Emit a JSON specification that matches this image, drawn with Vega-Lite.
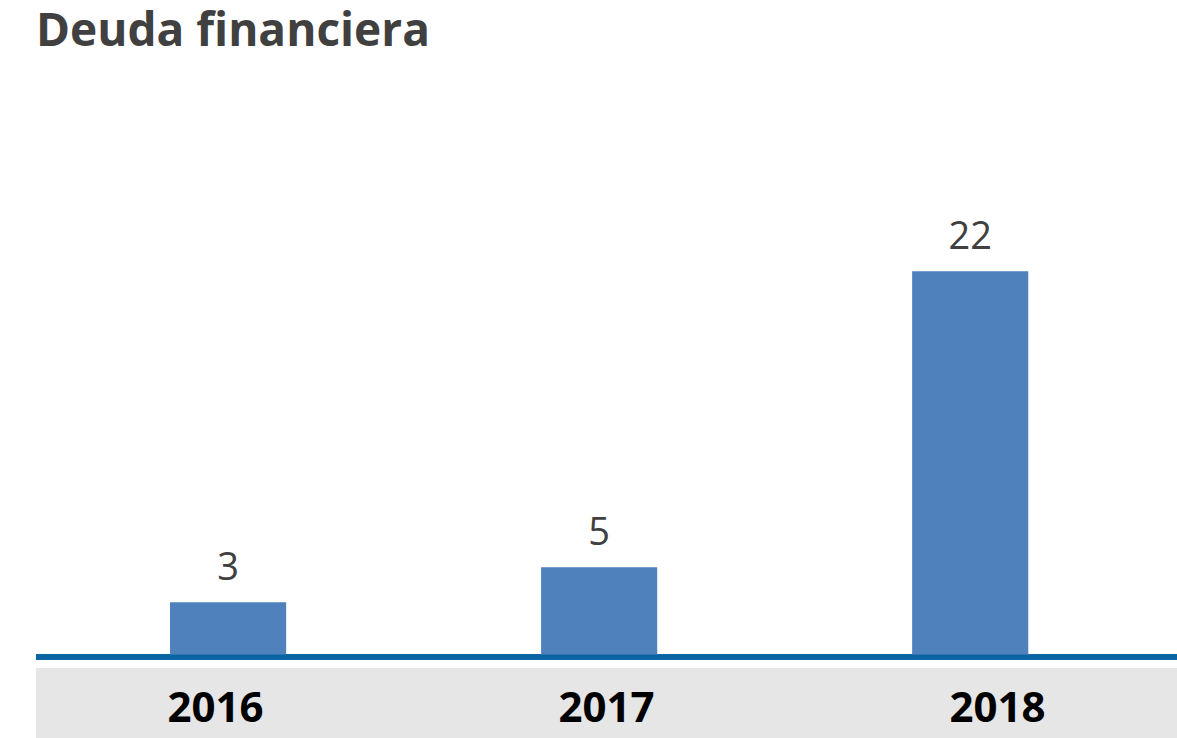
{
  "$schema": "https://vega.github.io/schema/vega-lite/v6.json",
  "width": 1141,
  "height": 641,
  "autosize": {"type": "none"},
  "padding": {"left": 36, "top": 97, "right": 0, "bottom": 0},
  "background": "white",
  "config": {"view": {"stroke": null}},
  "title": {
    "text": "Deuda financiera",
    "anchor": "start",
    "frame": "group",
    "font": "Open Sans",
    "fontSize": 46,
    "fontWeight": "bold",
    "color": "#404040",
    "offset": 41
  },
  "data": {
    "values": [
      {"year": "2016", "value": 3},
      {"year": "2017", "value": 5},
      {"year": "2018", "value": 22}
    ]
  },
  "resolve": {"scale": {"x": "independent"}},
  "layer": [
    {
      "mark": {"type": "rule", "color": "#e6e6e6", "strokeWidth": 70},
      "encoding": {
        "y": {"datum": -2.79, "type": "quantitative", "scale": {"domain": [-4.8, 32], "nice": false, "zero": false}, "axis": null}
      }
    },
    {
      "mark": {"type": "rule", "color": "#0a64a4", "strokeWidth": 5.5},
      "encoding": {
        "y": {"datum": -0.15, "type": "quantitative"}
      }
    },
    {
      "encoding": {
        "x": {
          "field": "year",
          "type": "nominal",
          "axis": null,
          "scale": {"type": "band", "paddingInner": 0.687, "paddingOuter": 0.381, "align": 0.474}
        }
      },
      "layer": [
        {
          "mark": {"type": "bar", "color": "#4f81bd"},
          "encoding": {
            "y": {"field": "value", "type": "quantitative"}
          }
        },
        {
          "mark": {"type": "text", "font": "Open Sans", "fontSize": 38, "color": "#404040", "baseline": "alphabetic", "dy": -22},
          "encoding": {
            "y": {"field": "value", "type": "quantitative"},
            "text": {"field": "value", "type": "quantitative"}
          }
        }
      ]
    },
    {
      "mark": {"type": "text", "font": "Open Sans", "fontSize": 42, "fontWeight": "bold", "color": "#000000", "baseline": "middle"},
      "encoding": {
        "x": {
          "field": "year",
          "type": "nominal",
          "axis": null,
          "scale": {"type": "band", "paddingInner": 0.5, "paddingOuter": 0.209, "align": 0.5}
        },
        "y": {"datum": -3.13, "type": "quantitative"},
        "text": {"field": "year", "type": "nominal"}
      }
    }
  ]
}
